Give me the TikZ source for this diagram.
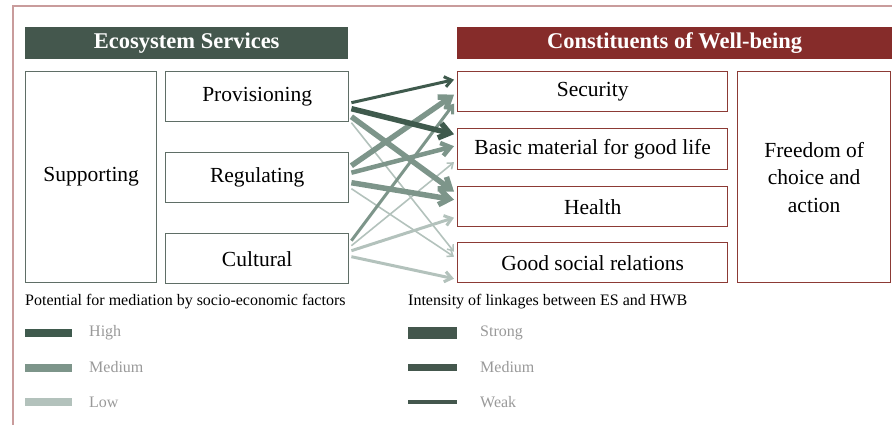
\documentclass[tikz,border=0pt]{standalone}
\usepackage{fontspec}
\setmainfont{Liberation Serif}
\usetikzlibrary{calc,arrows.meta}
\definecolor{esgreen}{HTML}{44574D}
\definecolor{wbred}{HTML}{862C2A}
\definecolor{esedge}{HTML}{5F6E66}
\definecolor{wbedge}{HTML}{8C3A35}
\definecolor{linkhigh}{HTML}{3F5A4D}
\definecolor{linkmed}{HTML}{7D958A}
\definecolor{linklow}{HTML}{B3C2BC}
\definecolor{framepink}{HTML}{C99C9C}
\definecolor{leggray}{HTML}{999999}
\tikzset{>={Straight Barb[length=3pt 1.3,width=5pt 1.8]}}
\tikzset{
    header/.style={anchor=north west,inner sep=0pt,text=white,
        font=\fontsize{22.5}{24}\selectfont\bfseries},
    esbox/.style={draw=esedge,line width=1.4pt,anchor=north west,inner sep=0pt,
        font=\fontsize{21.5}{27.5}\selectfont,align=center},
    wbbox/.style={draw=wbedge,line width=1.4pt,anchor=north west,inner sep=0pt,
        font=\fontsize{21.5}{27.5}\selectfont,align=center},
    legtitle/.style={anchor=west,inner sep=0pt,font=\fontsize{16}{18}\selectfont},
    leglabel/.style={anchor=west,inner sep=0pt,text=leggray,font=\fontsize{16}{18}\selectfont}
}

\begin{document}
\begin{tikzpicture}[x=1pt,y=-1pt]
    \useasboundingbox (0,0) rectangle (892,425);
    % Outer frame (top and left only)
    \draw[framepink,line width=1.2pt] (13,425) -- (13,6) -- (892,6);
    % Headers
    \node[header,fill=esgreen,minimum width=323pt,minimum height=32pt] (eshead) at (25,27) {Ecosystem Services};
    \node[header,fill=wbred,minimum width=435pt,minimum height=32pt] (wbhead) at (457,27) {Constituents of Well-being};
    % Ecosystem service boxes
    \node[esbox,minimum width=131pt,minimum height=211pt] (supp) at (25,71) {Supporting};
    \node[esbox,minimum width=183pt,minimum height=50pt] (prov) at (165,71) {Provisioning};
    \node[esbox,minimum width=183pt,minimum height=50pt] (reg) at (165,152) {Regulating};
    \node[esbox,minimum width=183pt,minimum height=50pt] (cult) at (165,233) {Cultural};
    % Well-being boxes
    \node[wbbox,minimum width=270pt,minimum height=40pt] (sec) at (457,71) {Security};
    \node[wbbox,minimum width=270pt,minimum height=41pt] (basic) at (457,128) {Basic material for good life};
    \node[wbbox,minimum width=270pt,minimum height=40pt] (health) at (457,186) {Health};
    \node[wbbox,minimum width=270pt,minimum height=40pt] (social) at (457,242) {Good social relations};
    \node[wbbox,minimum width=153pt,minimum height=211pt] (free) at (737,71) {Freedom of\\choice and\\action};
    % Linkages: source/offset/target/offset/colour/width
    \foreach \s/\sy/\t/\ty/\col/\w in {
        prov/26/social/-11/linklow/1.6, reg/11/social/-6/linklow/1.6,
        cult/-13/basic/13/linklow/1.6, cult/-8/health/11/linklow/3,
        cult/-2/social/16/linklow/3, cult/-18/sec/12/linkmed/3,
        reg/-5/basic/-3/linkmed/4.5, prov/20/health/-15/linkmed/5.5,
        reg/5/health/-7/linkmed/5.5, reg/-12/sec/3/linkmed/5.5,
        prov/12/basic/-15/linkhigh/5.5, prov/6/sec/-12/linkhigh/3} {
        \draw[->,draw=\col,line width=\w pt] ($(\s.east)+(2,\sy)$) -- ($(\t.west)+(-3,\ty)$);
    }
    % Legend: mediation
    \node[legtitle] (medtitle) at (25,302) {Potential for mediation by socio-economic factors};
    \foreach \c/\lab [count=\i] in {linkhigh/High,linkmed/Medium,linklow/Low} {
        \fill[\c] (25,333+34.5*\i-34.5-4) rectangle (72,333+34.5*\i-34.5+4);
        \node[leglabel] (med\i) at (89,333+34.5*\i-34.5) {\lab};
    }
    % Legend: intensity
    \node[legtitle] (inttitle) at (408,302) {Intensity of linkages between ES and HWB};
    \foreach \h/\lab [count=\i] in {6/Strong,3.5/Medium,2/Weak} {
        \fill[esgreen] (408,333+34.5*\i-34.5-\h) rectangle (457,333+34.5*\i-34.5+\h);
        \node[leglabel] (int\i) at (480,333+34.5*\i-34.5) {\lab};
    }
\end{tikzpicture}
\end{document}
